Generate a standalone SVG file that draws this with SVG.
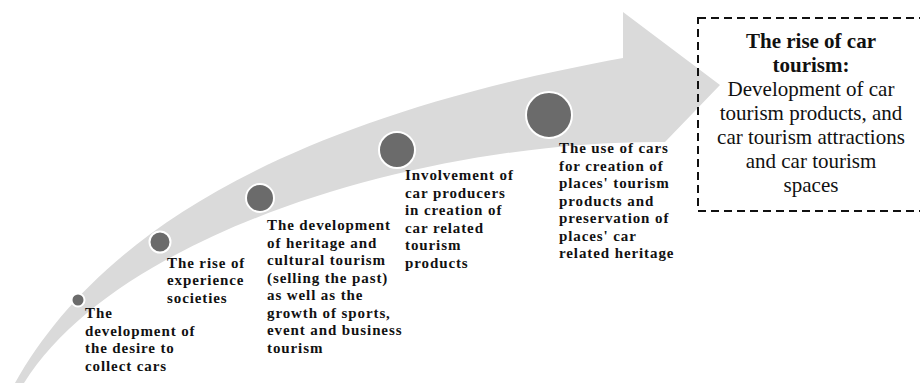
<svg xmlns="http://www.w3.org/2000/svg" width="920" height="383" viewBox="0 0 920 383">
<style>
.lbl{font-family:"Liberation Serif","Times New Roman",serif;font-weight:bold;font-size:15px;letter-spacing:0.9px;fill:#111}
.box{font-family:"Liberation Serif","Times New Roman",serif;font-size:21px;fill:#111;text-anchor:middle}
.dot{fill:#6b6b6b;stroke:#fff;stroke-width:2}
</style>
<g id="arrow">
<path d="M15,383 C90,250 255,125 623,58 L623,12 L720,85 L665,142 C430,140 120,230 24,383 Z" fill="#dadada"/>
</g>
<g id="connectors"></g>
<g id="n1"><circle class="dot" cx="78" cy="300" r="6.5"/>
<text class="lbl"><tspan x="85" y="318">The</tspan><tspan x="85" y="336">development of</tspan><tspan x="85" y="353">the desire to</tspan><tspan x="85" y="371">collect cars</tspan></text></g>
<g id="n2"><circle class="dot" cx="160" cy="242" r="10.5"/>
<text class="lbl"><tspan x="167" y="268">The rise of</tspan><tspan x="167" y="285">experience</tspan><tspan x="167" y="303">societies</tspan></text></g>
<g id="n3"><circle class="dot" cx="260" cy="198" r="14"/>
<text class="lbl"><tspan x="267" y="230">The development</tspan><tspan x="267" y="247.5">of heritage and</tspan><tspan x="267" y="265">cultural tourism</tspan><tspan x="267" y="282.5">(selling the past)</tspan><tspan x="267" y="300">as well as the</tspan><tspan x="267" y="317.5">growth of sports,</tspan><tspan x="267" y="335">event and business</tspan><tspan x="267" y="352.5">tourism</tspan></text></g>
<g id="n4"><circle class="dot" cx="397" cy="150" r="18"/>
<text class="lbl"><tspan x="405" y="180">Involvement of</tspan><tspan x="405" y="197.5">car producers</tspan><tspan x="405" y="215">in creation of</tspan><tspan x="405" y="232.5">car related</tspan><tspan x="405" y="250">tourism</tspan><tspan x="405" y="267.5">products</tspan></text></g>
<g id="n5"><circle class="dot" cx="549" cy="115" r="23"/>
<text class="lbl"><tspan x="559" y="153">The use of cars</tspan><tspan x="559" y="170.5">for creation of</tspan><tspan x="559" y="188">places' tourism</tspan><tspan x="559" y="205.5">products and</tspan><tspan x="559" y="223">preservation of</tspan><tspan x="559" y="240.5">places' car</tspan><tspan x="559" y="258">related heritage</tspan></text></g>
<g id="result">
<rect x="698" y="18" width="226" height="193" fill="none" stroke="#111" stroke-width="2" stroke-dasharray="8,5"/>
<text class="box"><tspan x="811" y="48" font-weight="bold">The rise of car</tspan><tspan x="811" y="72" font-weight="bold">tourism:</tspan><tspan x="811" y="96">Development of car</tspan><tspan x="811" y="120">tourism products, and</tspan><tspan x="811" y="144">car tourism attractions</tspan><tspan x="811" y="168">and car tourism</tspan><tspan x="811" y="192">spaces</tspan></text>
</g>
</svg>
